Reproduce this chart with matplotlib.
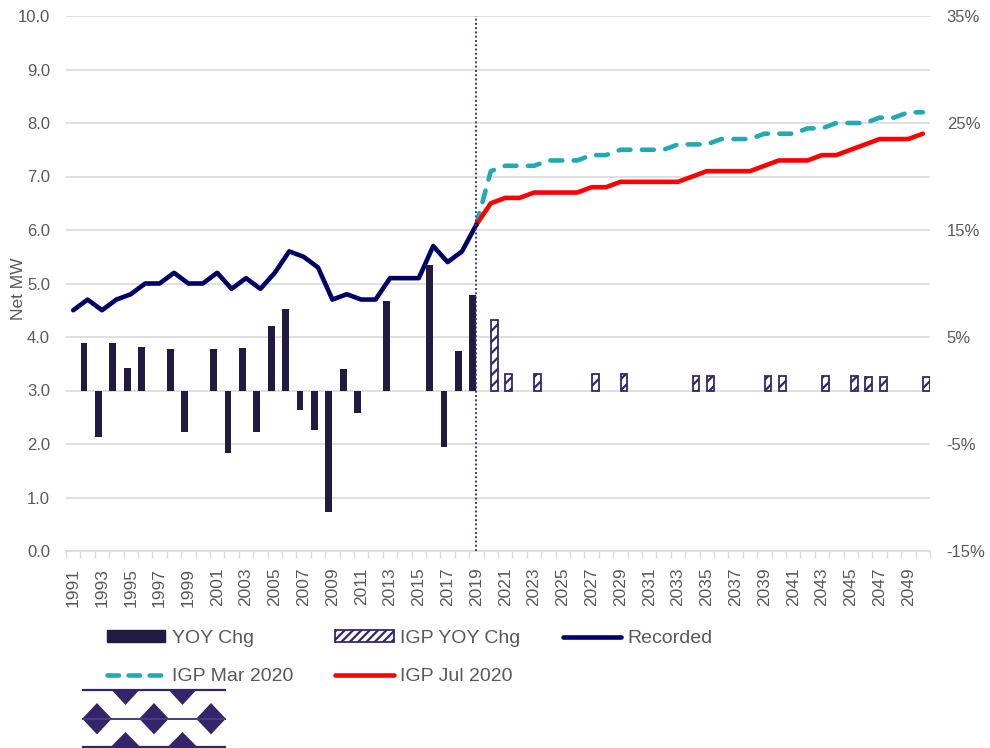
import matplotlib
matplotlib.use("Agg")
import matplotlib.pyplot as plt
import numpy as np
from matplotlib.patches import Patch, Polygon
from matplotlib.lines import Line2D

# ---------------- data ----------------
years = list(range(1991, 2051))

recorded_years = list(range(1991, 2020))
recorded = [4.5, 4.7, 4.5, 4.7, 4.8, 5.0, 5.0, 5.2, 5.0, 5.0, 5.2, 4.9, 5.1, 4.9,
            5.2, 5.6, 5.5, 5.3, 4.7, 4.8, 4.7, 4.7, 5.1, 5.1, 5.1, 5.7, 5.4, 5.6, 6.1]

yoy_years = list(range(1992, 2020))
yoy_chg = [4.4, -4.3, 4.4, 2.1, 4.1, 0.0, 3.9, -3.9, 0.0, 3.9, -5.8, 4.0, -3.9, 6.0,
           7.6, -1.8, -3.7, -11.4, 2.0, -2.1, 0.0, 8.4, 0.0, 0.0, 11.7, -5.3, 3.7, 8.9]

fc_years = list(range(2019, 2051))
igp_mar = [6.1, 7.1, 7.2, 7.2, 7.2, 7.3, 7.3, 7.3, 7.4, 7.4, 7.5, 7.5, 7.5, 7.5, 7.6, 7.6,
           7.6, 7.7, 7.7, 7.7, 7.8, 7.8, 7.8, 7.9, 7.9, 8.0, 8.0, 8.0, 8.1, 8.1, 8.2, 8.2]
igp_jul = [6.1, 6.5, 6.6, 6.6, 6.7, 6.7, 6.7, 6.7, 6.8, 6.8, 6.9, 6.9, 6.9, 6.9, 6.9, 7.0,
           7.1, 7.1, 7.1, 7.1, 7.2, 7.3, 7.3, 7.3, 7.4, 7.4, 7.5, 7.6, 7.7, 7.7, 7.7, 7.8]

igp_yoy_years = [2020, 2021, 2023, 2027, 2029, 2034, 2035, 2039, 2040, 2043, 2045, 2046, 2047, 2050]
igp_yoy_chg = [6.6, 1.5, 1.5, 1.5, 1.5, 1.4, 1.4, 1.4, 1.4, 1.4, 1.35, 1.3, 1.3, 1.3]

left_ticks = [0, 1, 2, 3, 4, 5, 6, 7, 8, 9, 10]
right_ticks = [-15, -5, 5, 15, 25, 35]
right_minor = [-10, 0, 10, 20, 30]
divider_year = 2019

# ---------------- style ----------------
C_YOY = "#221a41"
C_IGP = "#35266b"
C_REC = "#000066"
C_MAR = "#21a9b5"
C_JUL = "#ff0000"
C_TXT = "#595959"
C_GRID = "#d9d9d9"

plt.rcParams["font.family"] = ["Liberation Sans", "DejaVu Sans"]
plt.rcParams["hatch.linewidth"] = 1.6
plt.rcParams["hatch.color"] = C_IGP

W, H = 990, 748
fig = plt.figure(figsize=(W / 100, H / 100), dpi=100)
fig.patch.set_facecolor("white")

ax = fig.add_axes([66 / W, 1 - 551 / H, 864 / W, 535 / H])
ax2 = ax.twinx()
ax.set_zorder(ax2.get_zorder() + 1)
ax.patch.set_visible(False)

def idx(yrs):
    return np.array([years.index(y) for y in yrs], dtype=float)

# bars (right axis)
ax2.bar(idx(yoy_years) - 0.25, yoy_chg, width=0.46, color=C_YOY, zorder=2)
ax2.bar(idx(igp_yoy_years) + 0.25, igp_yoy_chg, width=0.46, facecolor="white",
        edgecolor=C_IGP, linewidth=1.3, hatch="///", zorder=2)

# lines (left axis)
ax.plot(idx(fc_years), igp_mar, color=C_MAR, lw=3.3, dashes=(2.6, 2.5),
        dash_capstyle="round", zorder=3)
ax.plot(idx(fc_years), igp_jul, color=C_JUL, lw=3.3, solid_capstyle="round",
        solid_joinstyle="round", zorder=4)
ax.plot(idx(recorded_years), recorded, color=C_REC, lw=3.3, solid_capstyle="round",
        solid_joinstyle="round", zorder=5)

ax.axvline(years.index(divider_year), color="#3c3a80", lw=1.4, ls=(0, (1, 1.2)), zorder=6)

# axes limits & ticks
ax.set_xlim(-0.5, len(years) - 0.5)
ax.set_ylim(0, 10)
ax2.set_ylim(-15, 35)

ax.set_yticks(left_ticks)
ax.set_yticklabels([f"{v:.1f}" for v in left_ticks])
ax.tick_params(axis="y", length=0, pad=11.5, labelsize=12, labelcolor=C_TXT)

ax2.set_yticks(right_ticks)
ax2.set_yticklabels([f"{v:d}%" for v in right_ticks])
ax2.set_yticks(right_minor, minor=True)
ax2.tick_params(axis="y", which="both", length=0, pad=12, labelsize=12, labelcolor=C_TXT)
ax2.set_axisbelow(True)
ax2.grid(True, axis="y", which="both", color=C_GRID, lw=1.2)
ax.grid(False)

major_x = list(range(0, len(years), 2))
ax.set_xticks(major_x)
ax.set_xticklabels([str(years[i]) for i in major_x], rotation=90)
ax.set_xticks(np.arange(-0.5, len(years), 1.0), minor=True)
ax.tick_params(axis="x", which="major", length=0, pad=12, labelsize=12.5, labelcolor=C_TXT)
ax.tick_params(axis="x", which="minor", length=5, width=1, color=C_GRID)

for a in (ax, ax2):
    for s in a.spines.values():
        s.set_visible(False)
ax.spines["bottom"].set_visible(True)
ax.spines["bottom"].set_color(C_GRID)
ax.spines["bottom"].set_linewidth(1.2)

ax.set_ylabel("Net MW", fontsize=12.5, color=C_TXT)
ax.yaxis.set_label_coords(-0.046, 0.49)

# legend
handles = [
    Patch(facecolor=C_YOY, edgecolor=C_YOY),
    Line2D([], [], color=C_MAR, lw=3.3, dashes=(2.5, 2.1), dash_capstyle="round"),
    Patch(facecolor="white", edgecolor=C_IGP, hatch="////", linewidth=1.3),
    Line2D([], [], color=C_JUL, lw=3.3, solid_capstyle="round"),
    Line2D([], [], color=C_REC, lw=3.3, solid_capstyle="round"),
]
labels = ["YOY Chg", "IGP Mar 2020", "IGP YOY Chg", "IGP Jul 2020", "Recorded"]
fig.legend(handles, labels, loc="upper left", bbox_to_anchor=(107 / W, 1 - 630 / H),
           bbox_transform=fig.transFigure, ncol=3, frameon=False, fontsize=14,
           labelcolor=C_TXT, handlelength=3.0, handleheight=0.55, handletextpad=0.35,
           columnspacing=2.15, borderpad=0, borderaxespad=0, labelspacing=1.1)

# decorative logo (bottom-left)
lg = fig.add_axes([0, 0, 1, 1], zorder=-1)
lg.set_xlim(0, W)
lg.set_ylim(H, 0)
lg.axis("off")
LC = "#34246a"
lg.plot([82, 226], [689.5, 689.5], color=LC, lw=1.6, solid_capstyle="butt")
lg.plot([82, 226], [746.5, 746.5], color=LC, lw=1.6, solid_capstyle="butt")
lg.plot([82, 226], [718.7, 718.7], color="#4a3c80", lw=1.4, solid_capstyle="butt")
for cx in (97, 154, 211):
    lg.add_patch(Polygon([[cx - 14.8, 718.7], [cx, 703], [cx + 14.8, 718.7], [cx, 734.4]],
                         closed=True, color=LC, lw=0))
for cx in (125.5, 182.5):
    lg.add_patch(Polygon([[cx - 14.3, 689.5], [cx + 14.3, 689.5], [cx, 705]],
                         closed=True, color=LC, lw=0))
    lg.add_patch(Polygon([[cx - 14.3, 746.5], [cx + 14.3, 746.5], [cx, 732]],
                         closed=True, color=LC, lw=0))

fig.savefig("out.png", dpi=100, facecolor="white")
